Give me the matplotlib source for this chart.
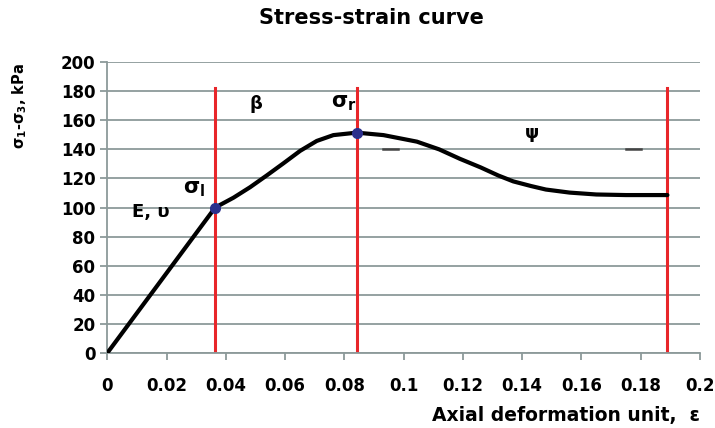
import matplotlib.pyplot as plt

# -------------------------------
# Data
# -------------------------------
strain = [0, 0.0364, 0.0426, 0.0482, 0.0539, 0.0595, 0.0651, 0.0707, 0.0763, 0.0842,
          0.0932, 0.1045, 0.112, 0.119, 0.126, 0.132, 0.137, 0.143, 0.148, 0.156,
          0.165, 0.175, 0.189]
stress = [0, 100, 106.8, 114, 122.2, 130.5, 139, 145.8, 149.8, 151.5,
          149.8, 145.3, 140, 133.5, 127.6, 122, 118, 114.8, 112.4, 110.3,
          109, 108.6, 108.6]

# special points (sigma_l, sigma_r)
point_x = [0.0364, 0.0842]
point_y = [100, 151.5]

# red boundaries between zones
bound_x = [0.0364, 0.0842, 0.189]
bound_top = 182

# small stray dashes on the 140 gridline
dash_x = [(0.093, 0.098), (0.175, 0.180)]
dash_y = 140

x_ticks = [0, 0.02, 0.04, 0.06, 0.08, 0.1, 0.12, 0.14, 0.16, 0.18, 0.2]
x_labels = ["0", "0.02", "0.04", "0.06", "0.08", "0.1", "0.12", "0.14", "0.16", "0.18", "0.2"]
y_ticks = list(range(0, 201, 20))

plt.rcParams['font.family'] = ['DejaVu Sans']
plt.rcParams['font.weight'] = 'bold'
plt.rcParams['mathtext.fontset'] = 'dejavusans'

fig = plt.figure(figsize=(7.15, 4.28), dpi=100)
ax = fig.add_axes([0.15, 0.175, 0.829, 0.68])

# grid
for y in y_ticks:
    ax.axhline(y, color='#8c9a9a', lw=1.3, zorder=1)
for x0, x1 in dash_x:
    ax.plot([x0, x1], [dash_y, dash_y], color='#444444', lw=1.8, zorder=1)

for bx in bound_x:
    ax.plot([bx, bx], [0, bound_top], color='#e8262a', lw=2.2, zorder=2)

ax.plot(strain, stress, color='black', lw=3, zorder=3, solid_capstyle='round',
        solid_joinstyle='round')
ax.plot(point_x, point_y, 'o', color='#2b2f8c', ms=7, zorder=4)

# zone labels
ax.text(0.0085, 97, "E, υ", fontsize=13, fontweight='bold', va='center')
ax.text(0.0255, 113, "σ$_\\mathbf{l}$", fontsize=15, fontweight='bold', va='center')
ax.text(0.048, 171, "β", fontsize=13, fontweight='bold', va='center')
ax.text(0.0755, 172, "σ$_\\mathbf{r}$", fontsize=15, fontweight='bold', va='center')
ax.text(0.141, 151, "ψ", fontsize=13, fontweight='bold', va='center')

ax.set_xlim(0, 0.2)
ax.set_ylim(0, 200)
ax.set_xticks(x_ticks)
ax.set_xticklabels(x_labels)
ax.set_yticks(y_ticks)
ax.tick_params(axis='both', labelsize=12, colors='#8c9a9a', labelcolor='black',
               length=5, width=1.3)
ax.tick_params(axis='x', pad=12)
for lab in ax.get_xticklabels() + ax.get_yticklabels():
    lab.set_fontweight('bold')

for s in ['top', 'right']:
    ax.spines[s].set_visible(False)
for s in ['left', 'bottom']:
    ax.spines[s].set_color('#8c9a9a')
    ax.spines[s].set_linewidth(1.3)

fig.text(0.52, 1 - 18 / 428, "Stress-strain curve", fontsize=15, fontweight='bold',
         ha='center', va='center')
ax.set_xlabel("Axial deformation unit,  ε", fontsize=13.5, fontweight='bold', loc='right',
              labelpad=8)
ax.set_ylabel("σ$_\\mathbf{1}$-σ$_\\mathbf{3}$, kPa", fontsize=10.5, fontweight='bold')
ax.yaxis.set_label_coords(-0.132, 0.85)

fig.savefig("out.png", dpi=100)
